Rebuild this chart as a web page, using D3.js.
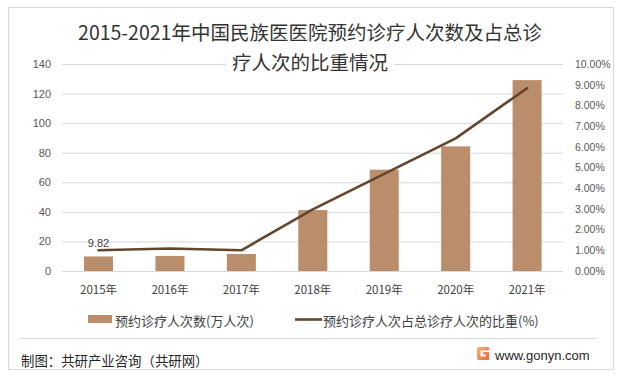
<!DOCTYPE html>
<html><head><meta charset="utf-8">
<script src="https://cdn.jsdelivr.net/npm/d3@7"></script>
<style>
html,body{margin:0;padding:0;background:#fff;}
text{font-family:"Liberation Sans","Noto Sans CJK SC",sans-serif;}
.cjk{font-family:"Noto Sans CJK SC","Liberation Sans",sans-serif;}
</style></head>
<body><svg id="c" width="620" height="376"></svg>
<script>
const titleLines = ["2015-2021年中国民族医医院预约诊疗人次数及占总诊", "疗人次的比重情况"];
const categories = ["2015年","2016年","2017年","2018年","2019年","2020年","2021年"];
const visits = [9.82, 10.2, 11.5, 41.2, 68.5, 84.3, 129.1];
const shares = [1.00, 1.09, 1.00, 2.98, 4.69, 6.41, 8.83];
const leftTicks = [0,20,40,60,80,100,120,140];
const rightTicks = [0,1,2,3,4,5,6,7,8,9,10];
const barLabel = "9.82";
const legendNames = ["预约诊疗人次数(万人次)", "预约诊疗人次占总诊疗人次的比重(%)"];
const footerLeft = "制图：共研产业咨询（共研网）";
const footerRight = "www.gonyn.com";

const svg = d3.select("#c");
const barColor = "#BA8D6B", lineColor = "#63462D";

svg.append("rect").attr("x",8.5).attr("y",7.5).attr("width",605).attr("height",362)
  .attr("fill","#fff").attr("stroke","#d9d9d9");

const x = d3.scaleBand().domain(categories).range([62.8,562.8]).paddingInner(0.594).paddingOuter(0.297);
const yL = d3.scaleLinear().domain([0,140]).range([271,64]);
const yR = d3.scaleLinear().domain([0,10]).range([271,64]);

// gridlines
svg.append("g").selectAll("line").data(leftTicks).join("line")
  .attr("x1",62).attr("x2",563).attr("y1",d=>yL(d)+0.5).attr("y2",d=>yL(d)+0.5)
  .attr("stroke","#d9d9d9").attr("stroke-width",1);

// left axis
const axL = svg.append("g").attr("transform","translate(51,0)")
  .call(d3.axisLeft(yL).tickValues(leftTicks).tickSize(0).tickPadding(0));
axL.select(".domain").remove();
axL.selectAll("text").attr("fill","#595959").style("font-size","11px");

// right axis
const axR = svg.append("g").attr("transform","translate(575,0)")
  .call(d3.axisRight(yR).tickValues(rightTicks).tickSize(0).tickPadding(0).tickFormat(d=>d3.format(".2f")(d)+"%"));
axR.select(".domain").remove();
axR.selectAll("text").attr("fill","#595959").style("font-size","10.5px");

// bars
svg.append("g").selectAll("rect").data(visits).join("rect")
  .attr("x",(d,i)=>x(categories[i])).attr("width",x.bandwidth())
  .attr("y",d=>yL(d)).attr("height",d=>yL(0)-yL(d)).attr("fill",barColor);

// line
const line = d3.line().x((d,i)=>x(categories[i])+x.bandwidth()/2).y(d=>yR(d));
svg.append("path").datum(shares).attr("d",line).attr("fill","none")
  .attr("stroke",lineColor).attr("stroke-width",2.6).attr("stroke-linejoin","round").attr("stroke-linecap","round");

// data label
svg.append("text").attr("x",x(categories[0])+x.bandwidth()/2).attr("y",243)
  .attr("text-anchor","middle").attr("dominant-baseline","central")
  .attr("fill","#404040").style("font-size","11px").text(barLabel);

// x labels
const axB = svg.append("g").attr("transform","translate(0,286)")
  .call(d3.axisBottom(x).tickSize(0).tickPadding(0));
axB.select(".domain").remove();
axB.selectAll("text").attr("fill","#404040").style("font-size","11.5px").attr("class","cjk");

// title
const t = svg.append("g").attr("class","cjk");
titleLines.forEach((s,i)=>{
  const tx = t.append("text").attr("x",310).attr("y",31+i*30).attr("text-anchor","middle")
    .attr("dominant-baseline","central").attr("fill","#333333").style("font-size","19.5px")
    .attr("class","cjk").text(s);
  if(i===1){
    const bb = tx.node().getBBox();
    t.insert("rect","text:last-child").attr("x",bb.x-6).attr("y",bb.y).attr("width",bb.width+12).attr("height",bb.height).attr("fill","#fff");
  }
});

// legend
const lg = svg.append("g");
lg.append("rect").attr("x",88).attr("y",315).attr("width",24).attr("height",8).attr("fill",barColor);
lg.append("text").attr("x",115).attr("y",320).attr("dominant-baseline","central").attr("class","cjk")
  .attr("fill","#404040").style("font-size","13px").text(legendNames[0]);
lg.append("line").attr("x1",295).attr("x2",322).attr("y1",319.5).attr("y2",319.5).attr("stroke",lineColor).attr("stroke-width",2.6);
lg.append("text").attr("x",323).attr("y",320).attr("dominant-baseline","central").attr("class","cjk")
  .attr("fill","#404040").style("font-size","13px").text(legendNames[1]);

// footer
svg.append("line").attr("x1",20).attr("x2",597).attr("y1",338.5).attr("y2",338.5).attr("stroke","#d9d9d9");
svg.append("text").attr("x",21).attr("y",360).attr("dominant-baseline","central").attr("class","cjk")
  .attr("fill","#262626").style("font-size","13.4px").text(footerLeft);
// logo
const logo = svg.append("g").attr("transform","translate(477,347)");
const grad = svg.append("defs").append("linearGradient").attr("id","lg1").attr("x1","0").attr("y1","0").attr("x2","1").attr("y2","1");
grad.append("stop").attr("offset","0").attr("stop-color","#f7b27a");
grad.append("stop").attr("offset","1").attr("stop-color","#f0683a");
logo.append("path").attr("d","M0,2 Q0,0 2,0 L12,0 L12,3.5 L3.5,3.5 L3.5,9.5 L8.5,9.5 L8.5,7.5 L6,7.5 L6,5 L12,5 L12,13 L2,13 Q0,13 0,11 Z").attr("fill","url(#lg1)");
svg.append("text").attr("x",495).attr("y",355).attr("dominant-baseline","central")
  .attr("fill","#262626").style("font-size","13px").text(footerRight);
</script></body></html>
